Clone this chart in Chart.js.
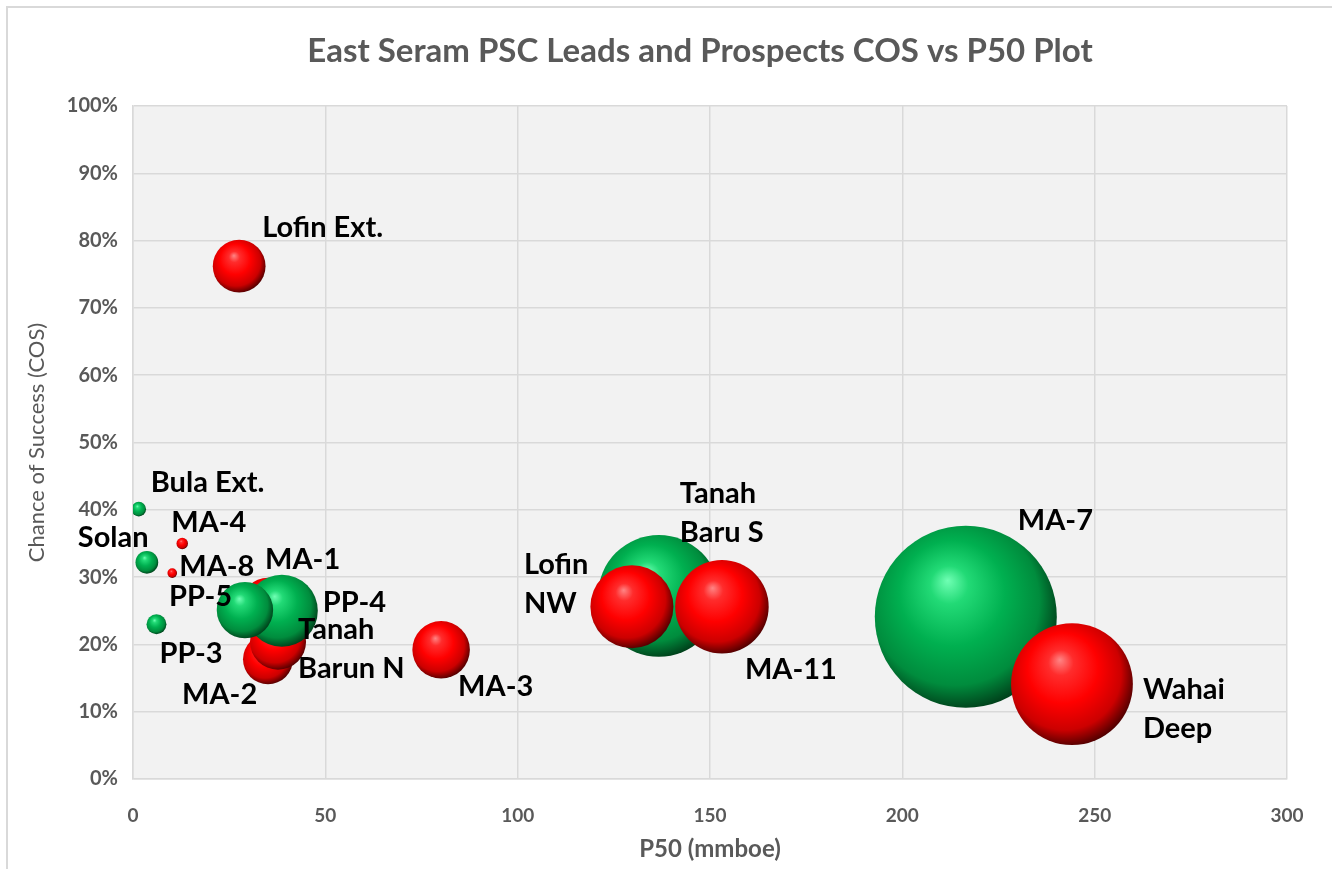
<!DOCTYPE html>
<html>
<head>
<meta charset="utf-8">
<script src="https://cdn.jsdelivr.net/npm/chart.js@4.4.0/dist/chart.umd.min.js"></script>
<style>
  html, body { margin: 0; padding: 0; background: #fff; }
  #wrap { width: 1332px; height: 869px; position: relative; }
</style>
</head>
<body>
<div id="wrap"><canvas id="cosChart" width="1332" height="869"></canvas></div>
<script>
// Leads / prospects, listed in drawing order (later ones sit on top)
const names = ['Bula Ext.', 'Solan', 'PP-3', 'MA-4', 'MA-8', 'Lofin Ext.', 'MA-2', 'Tanah\nBarun N',
  'MA-1', 'PP-4', 'PP-5', 'MA-3', 'Tanah\nBaru S', 'Lofin\nNW', 'MA-11', 'MA-7', 'Wahai\nDeep'];
const p50 = [1.5, 3.6, 6.1, 12.8, 10.2, 27.6, 35.1, 37.7, 35.1, 38.7, 29.1, 80.1, 136.7, 129.7, 153.1, 216.5, 244.1];
const cos = [0.401, 0.322, 0.230, 0.350, 0.306, 0.762, 0.178, 0.204, 0.259, 0.250, 0.251, 0.192, 0.272, 0.256, 0.256, 0.241, 0.141];
const bubbleSize = [1.6, 3.9, 3.0, 1.0, 0.7, 21, 18.9, 23.7, 22, 39, 24, 25, 112, 52, 66, 250, 112];
const status = ['Lead', 'Lead', 'Lead', 'Prospect', 'Prospect', 'Prospect', 'Prospect', 'Prospect',
  'Prospect', 'Lead', 'Lead', 'Prospect', 'Lead', 'Prospect', 'Prospect', 'Lead', 'Prospect'];

const xTicks = [0, 50, 100, 150, 200, 250, 300];
const yTicks = [0, 0.1, 0.2, 0.3, 0.4, 0.5, 0.6, 0.7, 0.8, 0.9, 1.0];

const chartTitle = 'East Seram PSC Leads and Prospects COS vs P50 Plot';

// label placement relative to bubble centre (px): left edge, first line middle
const labelOffsets = [[12, -26], [-69, -25], [3, 29], [-11, -21], [7, -6], [23, -39], [-86, 35], [20, -12],
  [-3, -45], [41, -8], [-76, -13], [17, 37], [21, -102], [-108, -42], [23, 63], [52, -96], [71, 6]];

const MAX_R = 91;
const maxSize = Math.max(...bubbleSize);
const FONT = 'Lato, "Liberation Sans", sans-serif';

const palette = {
  Lead: ['#70ffb4', '#22da76', '#00b050', '#008c3d', '#003d19'],
  Prospect: ['#ff8585', '#ff2c2c', '#ff0000', '#cc0000', '#4d0000']
};

// 3D sphere look: light spot upper-left, shadow toward lower-right
function sphereFill(ctx) {
  if (ctx.type !== 'data') return '#888';
  const chart = ctx.chart;
  const i = ctx.dataIndex;
  const cols = palette[status[i]];
  const sx = chart.scales.x, sy = chart.scales.y;
  if (!sx || !chart.chartArea) return cols[2];
  const cx = sx.getPixelForValue(p50[i]);
  const cy = sy.getPixelForValue(cos[i]);
  const r = MAX_R * Math.sqrt(bubbleSize[i] / maxSize);
  const g = chart.ctx.createRadialGradient(cx - 0.2 * r, cy - 0.4 * r, 0, cx - 0.1 * r, cy - 0.12 * r, r * 1.16);
  g.addColorStop(0, cols[0]);
  g.addColorStop(0.18, cols[1]);
  g.addColorStop(0.5, cols[2]);
  g.addColorStop(0.8, cols[3]);
  g.addColorStop(1, cols[4]);
  return g;
}

const points = p50.map((x, i) => ({ x: x, y: cos[i], r: MAX_R * Math.sqrt(bubbleSize[i] / maxSize) }));

const plotBg = {
  id: 'plotBg',
  beforeDraw(chart) {
    const { ctx, chartArea: a } = chart;
    ctx.save();
    ctx.fillStyle = '#ffffff';
    ctx.fillRect(0, 0, chart.width, chart.height);
    ctx.strokeStyle = '#d9d9d9';
    ctx.lineWidth = 2;
    ctx.beginPath();
    ctx.moveTo(7, chart.height);
    ctx.lineTo(7, 7);
    ctx.lineTo(chart.width, 7);
    ctx.stroke();
    ctx.fillStyle = '#f2f2f2';
    ctx.fillRect(a.left, a.top, a.right - a.left, a.bottom - a.top);
    // title
    ctx.fillStyle = '#595959';
    ctx.font = 'bold 33px ' + FONT;
    ctx.textAlign = 'center';
    ctx.textBaseline = 'middle';
    ctx.fillText(chartTitle, 700, 51);
    ctx.restore();
  }
};

const bubbleLabels = {
  id: 'bubbleLabels',
  afterDatasetsDraw(chart) {
    const ctx = chart.ctx;
    const meta = chart.getDatasetMeta(0);
    ctx.save();
    ctx.font = 'bold 29px ' + FONT;
    ctx.fillStyle = '#000000';
    ctx.textAlign = 'left';
    ctx.textBaseline = 'middle';
    meta.data.forEach((el, i) => {
      const [dx, dy] = labelOffsets[i];
      names[i].split('\n').forEach((line, k) => {
        ctx.fillText(line, el.x + dx, el.y + dy + k * 39);
      });
    });
    ctx.restore();
  }
};

new Chart(document.getElementById('cosChart'), {
  type: 'bubble',
  data: {
    datasets: [{
      label: 'COS vs P50',
      data: points,
      backgroundColor: sphereFill,
      hoverBackgroundColor: sphereFill,
      borderWidth: 0,
      hoverBorderWidth: 0
    }]
  },
  options: {
    responsive: false,
    animation: false,
    events: [],
    layout: { autoPadding: false, padding: { left: 24, right: 45, top: 106, bottom: 0 } },
    plugins: {
      legend: { display: false },
      tooltip: { enabled: false },
      title: { display: false }
    },
    scales: {
      x: {
        type: 'linear',
        min: 0,
        max: 300,
        afterBuildTicks(s) { s.ticks = xTicks.map(v => ({ value: v })); },
        afterFit(s) { s.height = 90; s.paddingLeft = 0; s.paddingRight = 0; },
        grid: { color: '#d9d9d9', lineWidth: 1.5, drawTicks: false },
        border: { display: true, color: '#d9d9d9', width: 1.5 },
        ticks: { color: '#595959', font: { family: FONT, size: 19, weight: 'bold' }, padding: 25 },
        title: {
          display: true,
          text: 'P50 (mmboe)',
          color: '#595959',
          font: { family: FONT, size: 24, weight: 'bold' },
          padding: { top: 0, bottom: 5 }
        }
      },
      y: {
        type: 'linear',
        min: 0,
        max: 1,
        afterBuildTicks(s) { s.ticks = yTicks.map(v => ({ value: v })); },
        afterFit(s) { s.width = 109; s.paddingTop = 0; s.paddingBottom = 0; },
        grid: { color: '#d9d9d9', lineWidth: 1.5, drawTicks: false },
        border: { display: true, color: '#d9d9d9', width: 1.5 },
        ticks: {
          color: '#595959',
          font: { family: FONT, size: 20, weight: 'bold' },
          padding: 15,
          callback: v => Math.round(v * 100) + '%'
        },
        title: {
          display: true,
          text: 'Chance of Success (COS)',
          color: '#595959',
          font: { family: FONT, size: 22, weight: 'normal' },
          padding: { top: 0, bottom: 0 }
        }
      }
    }
  },
  plugins: [plotBg, bubbleLabels]
});
</script>
</body>
</html>
